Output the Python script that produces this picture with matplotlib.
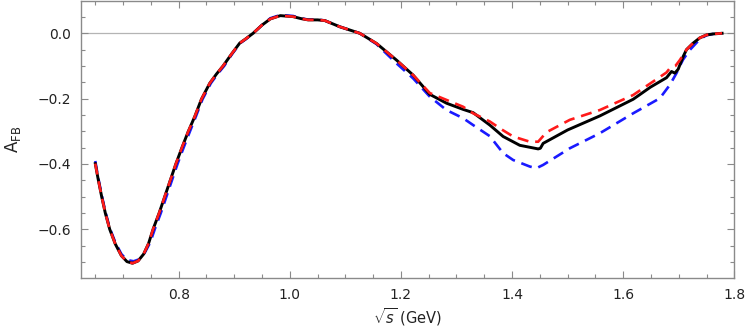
import matplotlib
matplotlib.use("Agg")
import matplotlib.pyplot as plt
from matplotlib.ticker import MultipleLocator, FuncFormatter

plt.rcParams['font.family'] = ['DejaVu Sans']
plt.rcParams['mathtext.fontset'] = 'custom'
plt.rcParams['mathtext.rm'] = 'DejaVu Sans'
plt.rcParams['mathtext.it'] = 'DejaVu Sans:italic'
plt.rcParams['mathtext.bf'] = 'DejaVu Sans:bold'

# ---- data ----
x_black = [0.650, 0.655, 0.6615, 0.668, 0.676, 0.686, 0.697, 0.707, 0.717, 0.727,
           0.737, 0.746, 0.754, 0.765, 0.775, 0.785, 0.795, 0.806, 0.817, 0.829,
           0.841, 0.856, 0.868, 0.880, 0.895, 0.910, 0.920, 0.934, 0.950, 0.965,
           0.983, 1.006, 1.020, 1.033, 1.050, 1.063, 1.090, 1.126, 1.156, 1.192,
           1.222, 1.252, 1.282, 1.312, 1.330, 1.360, 1.384, 1.414, 1.447, 1.451,
           1.456, 1.500, 1.558, 1.618, 1.649, 1.678, 1.687, 1.693, 1.699, 1.708,
           1.714, 1.726, 1.738, 1.750, 1.762, 1.778]
y_black = [-0.399, -0.445, -0.500, -0.550, -0.600, -0.645, -0.681, -0.699, -0.704, -0.697,
           -0.676, -0.643, -0.600, -0.550, -0.500, -0.450, -0.400, -0.350, -0.302, -0.255,
           -0.202, -0.153, -0.125, -0.100, -0.064, -0.030, -0.018, 0.000, 0.025, 0.044,
           0.054, 0.051, 0.045, 0.041, 0.041, 0.039, 0.020, 0.000, -0.031, -0.082,
           -0.128, -0.187, -0.214, -0.233, -0.243, -0.281, -0.316, -0.343, -0.354, -0.352,
           -0.337, -0.296, -0.253, -0.202, -0.165, -0.136, -0.117, -0.122, -0.110, -0.071,
           -0.050, -0.030, -0.014, -0.005, -0.002, 0.000]

x_red = [0.650, 0.655, 0.6615, 0.668, 0.676, 0.686, 0.697, 0.707, 0.717, 0.727,
         0.737, 0.746, 0.754, 0.765, 0.775, 0.785, 0.795, 0.806, 0.817, 0.829,
         0.841, 0.856, 0.868, 0.880, 0.895, 0.910, 0.920, 0.934, 0.950, 0.965,
         0.983, 1.006, 1.020, 1.033, 1.050, 1.063, 1.090, 1.126, 1.156, 1.192,
         1.222, 1.252, 1.282, 1.312, 1.330, 1.360, 1.380, 1.402, 1.432, 1.447,
         1.462, 1.504, 1.558, 1.618, 1.678, 1.684, 1.688, 1.694, 1.702, 1.708,
         1.714, 1.726, 1.738, 1.750, 1.762, 1.778]
y_red = [-0.399, -0.445, -0.500, -0.550, -0.600, -0.645, -0.681, -0.699, -0.704, -0.697,
         -0.676, -0.643, -0.600, -0.550, -0.500, -0.450, -0.400, -0.350, -0.302, -0.255,
         -0.202, -0.153, -0.125, -0.100, -0.064, -0.030, -0.018, 0.000, 0.025, 0.044,
         0.054, 0.051, 0.045, 0.041, 0.041, 0.039, 0.020, 0.000, -0.031, -0.082,
         -0.128, -0.183, -0.204, -0.225, -0.245, -0.270, -0.293, -0.316, -0.332, -0.332,
         -0.303, -0.265, -0.235, -0.189, -0.120, -0.107, -0.104, -0.100, -0.082, -0.066,
         -0.050, -0.030, -0.014, -0.005, -0.002, 0.000]

x_blue = [0.650, 0.655, 0.6615, 0.668, 0.676, 0.686, 0.697, 0.707, 0.719, 0.729,
          0.739, 0.749, 0.757, 0.768, 0.778, 0.788, 0.798, 0.809, 0.820, 0.831,
          0.843, 0.858, 0.870, 0.882, 0.896, 0.911, 0.921, 0.934, 0.950, 0.965,
          0.983, 1.006, 1.020, 1.033, 1.050, 1.063, 1.090, 1.126, 1.156, 1.192,
          1.222, 1.252, 1.282, 1.312, 1.330, 1.360, 1.384, 1.402, 1.432, 1.444,
          1.456, 1.504, 1.558, 1.618, 1.666, 1.684, 1.696, 1.702, 1.708, 1.720,
          1.738, 1.750, 1.762, 1.778]
y_blue = [-0.391, -0.440, -0.495, -0.545, -0.596, -0.640, -0.676, -0.694, -0.698, -0.692,
          -0.672, -0.640, -0.600, -0.550, -0.500, -0.450, -0.400, -0.350, -0.302, -0.255,
          -0.202, -0.153, -0.125, -0.100, -0.064, -0.030, -0.018, 0.000, 0.025, 0.046,
          0.056, 0.053, 0.046, 0.042, 0.042, 0.039, 0.020, 0.000, -0.033, -0.092,
          -0.138, -0.194, -0.235, -0.260, -0.281, -0.315, -0.367, -0.388, -0.408, -0.413,
          -0.403, -0.352, -0.306, -0.245, -0.199, -0.158, -0.122, -0.100, -0.080, -0.051,
          -0.018, -0.006, -0.002, 0.000]

x_ticks = [0.8, 1.0, 1.2, 1.4, 1.6, 1.8]
y_ticks = [-0.6, -0.4, -0.2, 0.0]

# ---- figure ----
fig = plt.figure(figsize=(7.47, 3.27), dpi=100)
ax = fig.add_axes([81 / 747, 1 - 278 / 327, (734.3 - 81) / 747, (278 - 0.65) / 327])

frame = '#8a8a8a'
ax.axhline(0.0, color='#b4b4b4', lw=0.9, zorder=1)

ax.plot(x_black, y_black, color='black', lw=2.1, solid_joinstyle='round', zorder=3)
ax.plot(x_red, y_red, color='#ff1a1a', lw=1.9, dashes=(4.2, 2.6), zorder=4)
ax.plot(x_blue, y_blue, color='#1a1aff', lw=1.9, dashes=(4.2, 2.6), zorder=2)

ax.set_xlim(0.6243, 1.8)
ax.set_ylim(-0.7492, 0.0999)

ax.set_xticks(x_ticks)
ax.set_yticks(y_ticks)
ax.xaxis.set_minor_locator(MultipleLocator(0.05))
ax.yaxis.set_minor_locator(MultipleLocator(0.05))
fmt = FuncFormatter(lambda v, p: ('%.1f' % v).replace('-', '\u2212') if abs(v) > 1e-9 else '0.0')
ax.xaxis.set_major_formatter(fmt)
ax.yaxis.set_major_formatter(fmt)

for s in ax.spines.values():
    s.set_color(frame)
    s.set_linewidth(1.0)

ax.tick_params(which='both', direction='in', top=True, right=True, color=frame,
               labelcolor='#222222', labelsize=10, width=0.8)
ax.tick_params(which='major', length=5, pad=7)
ax.tick_params(which='minor', length=3)

ax.set_xlabel(r'$\sqrt{s}$ (GeV)', fontsize=10.5, color='#222222', va='center')
ax.set_ylabel(r'$\mathrm{A}_{\mathrm{FB}}$', fontsize=12, color='#222222', va='center')
ax.xaxis.set_label_coords(0.5, -0.142)
ax.yaxis.set_label_coords(-0.104, 0.5)

fig.savefig('out.png', dpi=100)
